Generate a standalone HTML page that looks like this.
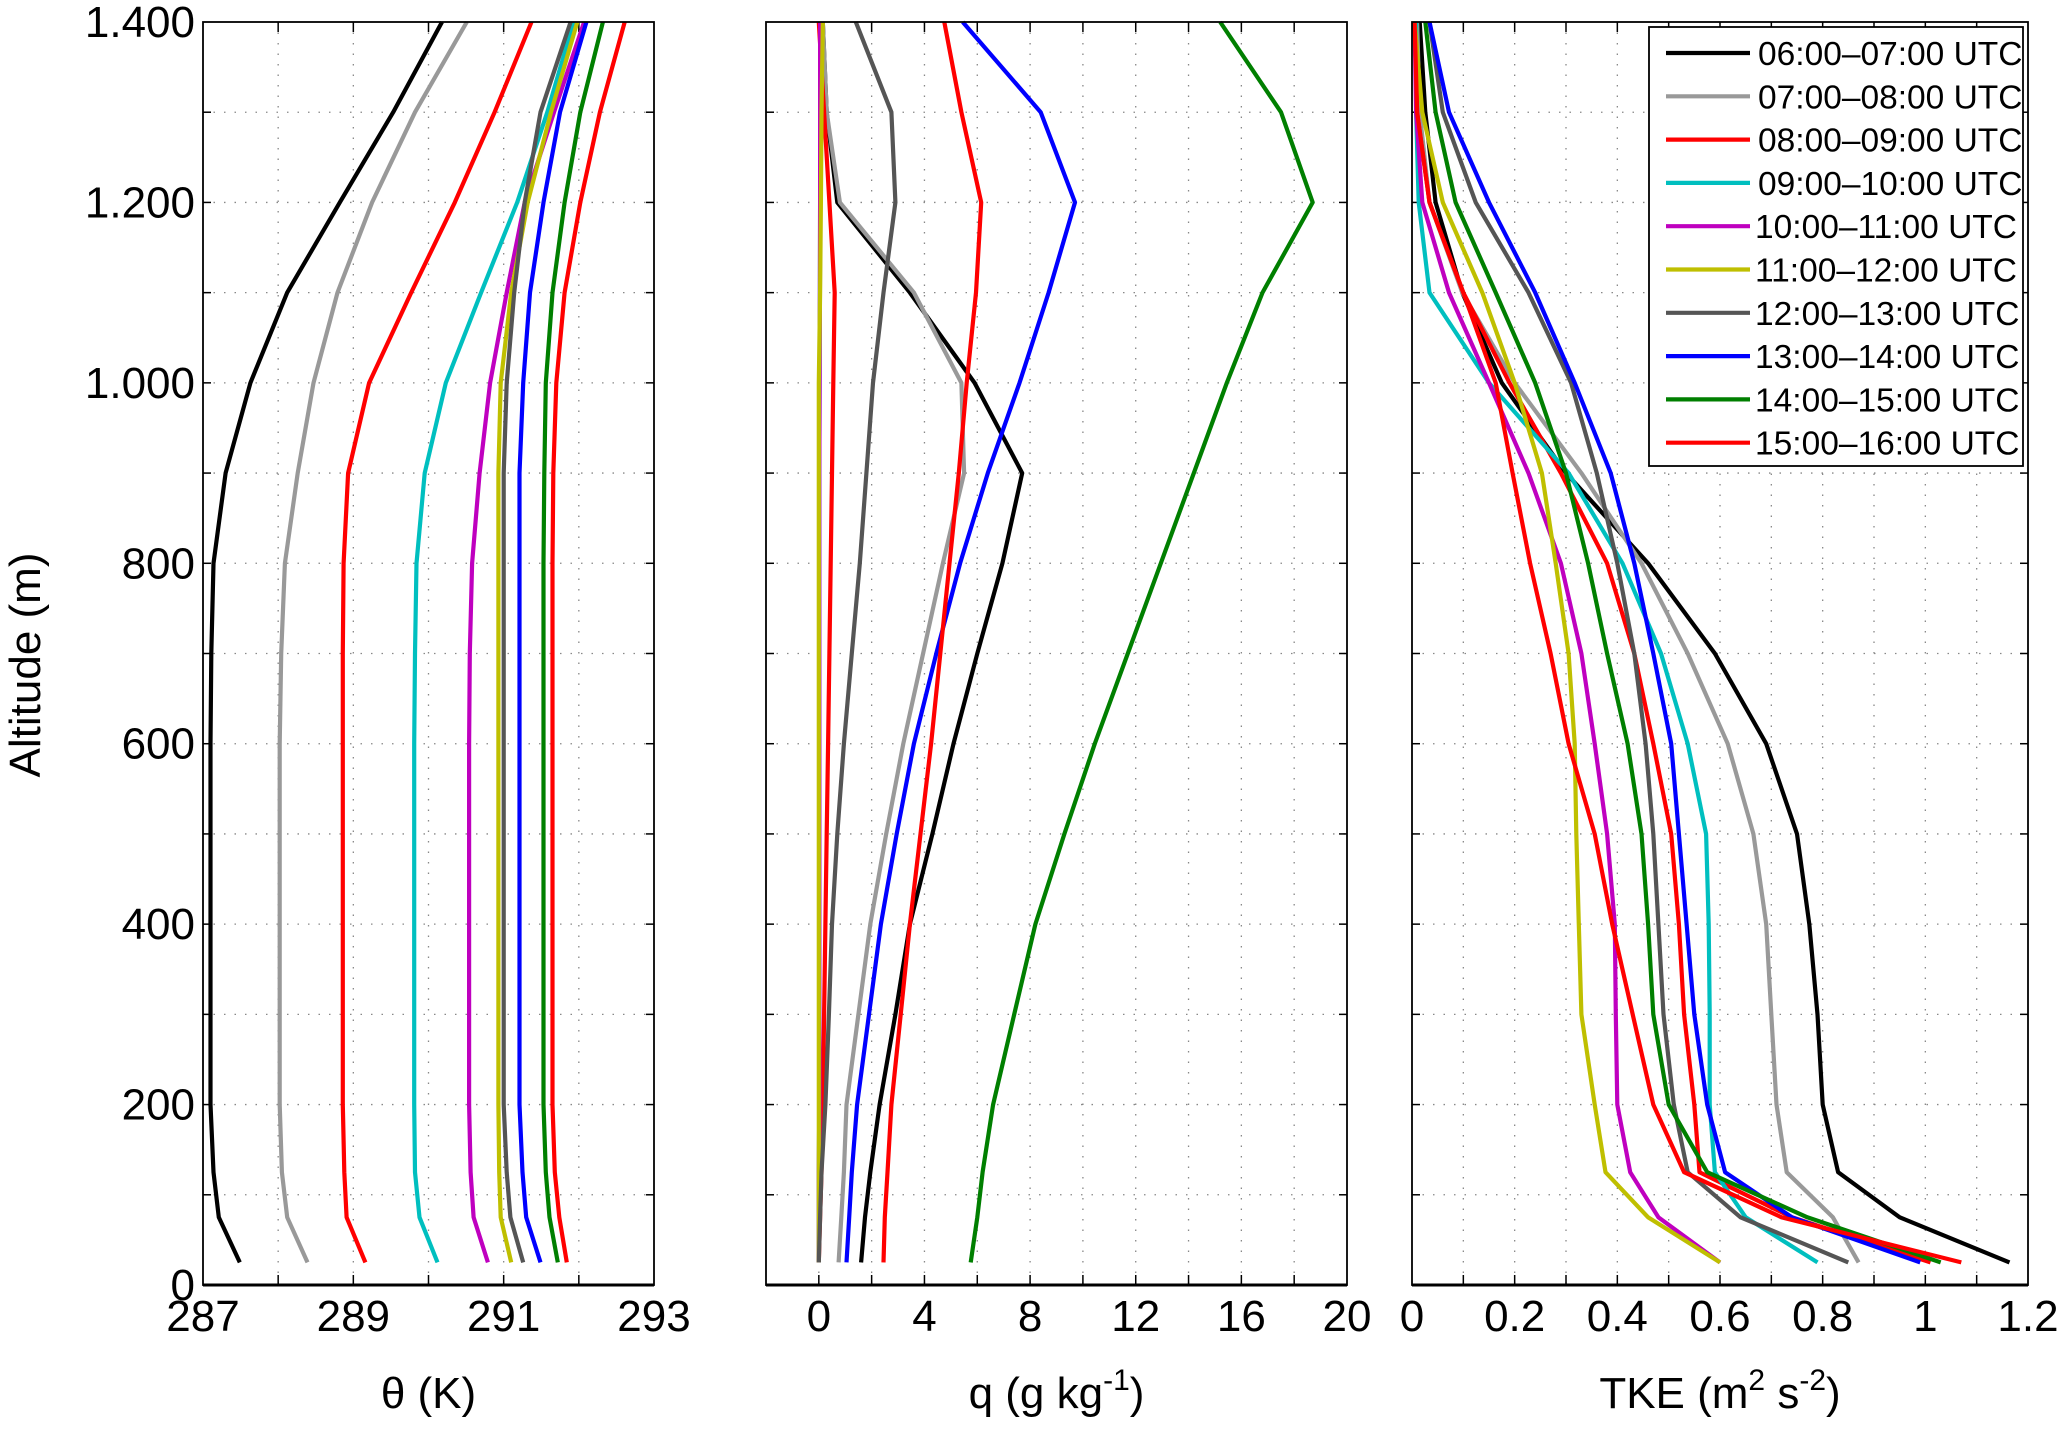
<!DOCTYPE html>
<html><head><meta charset="utf-8"><style>
html,body{margin:0;padding:0;background:#fff;}
svg text{font-family:"Liberation Sans",Arial,sans-serif;fill:#000;}
</style></head><body>
<svg id="chart" xmlns="http://www.w3.org/2000/svg" width="2066" height="1437" viewBox="0 0 2066 1437"></svg>
<script>
const seriesNames = ["06:00–07:00 UTC","07:00–08:00 UTC","08:00–09:00 UTC","09:00–10:00 UTC","10:00–11:00 UTC","11:00–12:00 UTC","12:00–13:00 UTC","13:00–14:00 UTC","14:00–15:00 UTC","15:00–16:00 UTC"];
const seriesColors = ["#000000","#999999","#ff0000","#00bfbf","#bf00bf","#bfbf00","#555555","#0000ff","#007f00","#ff0000"];
const altLevels = [25,75,125,200,300,400,500,600,700,800,900,1000,1100,1200,1300,1400];
const yTicks = [0,200,400,600,800,1000,1200,1400];
const yTickLabels = ["0","200","400","600","800","1.000","1.200","1.400"];

const thetaValues = [
 [287.49,287.21,287.14,287.1,287.1,287.1,287.1,287.1,287.11,287.14,287.3,287.63,288.12,288.82,289.53,290.18],
 [288.39,288.12,288.05,288.02,288.02,288.02,288.02,288.02,288.04,288.09,288.26,288.47,288.79,289.25,289.82,290.51],
 [289.16,288.91,288.88,288.86,288.86,288.86,288.86,288.86,288.86,288.87,288.93,289.21,289.77,290.35,290.88,291.37],
 [290.12,289.88,289.82,289.81,289.81,289.81,289.81,289.81,289.82,289.84,289.95,290.23,290.7,291.18,291.58,291.93],
 [290.79,290.6,290.56,290.54,290.54,290.54,290.54,290.54,290.55,290.58,290.68,290.82,291.04,291.28,291.67,292.07],
 [291.1,290.96,290.94,290.93,290.93,290.93,290.93,290.93,290.93,290.93,290.93,290.96,291.1,291.32,291.63,291.98],
 [291.26,291.09,291.04,291.0,291.0,291.0,291.0,291.0,291.0,291.0,291.0,291.04,291.14,291.28,291.49,291.89],
 [291.49,291.3,291.25,291.21,291.21,291.21,291.21,291.21,291.21,291.21,291.21,291.26,291.35,291.53,291.75,292.1],
 [291.72,291.61,291.56,291.53,291.53,291.53,291.53,291.53,291.53,291.53,291.54,291.56,291.65,291.81,292.02,292.32],
 [291.84,291.74,291.68,291.65,291.65,291.65,291.65,291.65,291.65,291.65,291.66,291.7,291.81,292.02,292.28,292.61]
];
const qValues = [
 [1.6,1.75,1.95,2.3,2.9,3.45,4.3,5.1,6.0,6.95,7.7,5.9,3.45,0.7,0.3,0.15],
 [0.75,0.85,0.95,1.05,1.5,1.95,2.55,3.2,3.95,4.7,5.5,5.4,3.6,0.8,0.3,0.15],
 [0.0,0.05,0.1,0.15,0.2,0.25,0.3,0.35,0.4,0.45,0.5,0.55,0.6,0.4,0.2,0.0],
 [0.0,0.0,0.0,0.02,0.02,0.02,0.02,0.02,0.02,0.02,0.02,0.03,0.04,0.05,0.05,0.05],
 [0.0,0.0,0.0,0.02,0.02,0.02,0.02,0.02,0.02,0.02,0.02,0.03,0.04,0.05,0.05,0.05],
 [0.0,0.0,0.0,0.0,0.0,0.0,0.0,0.0,0.0,0.0,0.0,0.0,0.05,0.08,0.1,0.15],
 [0.0,0.05,0.1,0.25,0.38,0.5,0.7,0.95,1.25,1.55,1.8,2.05,2.45,2.9,2.75,1.4],
 [1.05,1.15,1.25,1.45,1.9,2.35,2.95,3.6,4.45,5.35,6.4,7.6,8.7,9.7,8.4,5.45],
 [5.75,6.0,6.2,6.6,7.4,8.2,9.3,10.45,11.7,12.95,14.2,15.45,16.8,18.7,17.5,15.2],
 [2.45,2.5,2.6,2.75,3.1,3.45,3.85,4.25,4.6,4.95,5.3,5.6,5.95,6.15,5.4,4.75]
];
const tkeValues = [
 [1.164,0.95,0.83,0.8,0.79,0.774,0.75,0.69,0.59,0.46,0.3,0.175,0.098,0.046,0.026,0.015],
 [0.87,0.82,0.73,0.71,0.7,0.69,0.665,0.615,0.537,0.447,0.33,0.2,0.098,0.034,0.015,0.01],
 [1.01,0.74,0.56,0.55,0.53,0.52,0.505,0.47,0.433,0.38,0.29,0.19,0.1,0.034,0.01,0.005],
 [0.79,0.65,0.59,0.58,0.58,0.578,0.573,0.537,0.485,0.41,0.305,0.15,0.034,0.013,0.008,0.008],
 [0.6,0.48,0.425,0.4,0.397,0.395,0.38,0.356,0.33,0.29,0.227,0.15,0.072,0.02,0.008,0.005],
 [0.6,0.46,0.377,0.356,0.33,0.325,0.32,0.317,0.305,0.28,0.253,0.2,0.137,0.06,0.02,0.005],
 [0.85,0.64,0.537,0.51,0.49,0.48,0.47,0.455,0.433,0.4,0.36,0.31,0.227,0.124,0.06,0.034],
 [0.99,0.74,0.61,0.575,0.55,0.535,0.52,0.505,0.47,0.433,0.387,0.317,0.24,0.15,0.072,0.034],
 [1.03,0.77,0.575,0.5,0.47,0.46,0.447,0.42,0.38,0.343,0.3,0.24,0.163,0.085,0.046,0.026],
 [1.07,0.72,0.53,0.47,0.43,0.39,0.356,0.305,0.27,0.23,0.196,0.163,0.1,0.034,0.01,0.005]
];
const thetaTicks = [287,289,291,293];
const thetaGrid = [288,289,290,291,292];
const qTicks = [0,4,8,12,16,20];
const qGrid = [0,2,4,6,8,10,12,14,16,18];
const tkeTicks = [0,0.2,0.4,0.6,0.8,1,1.2];
const tkeGrid = [0.1,0.2,0.3,0.4,0.5,0.6,0.7,0.8,0.9,1.0,1.1];

const NS="http://www.w3.org/2000/svg";
const svg=document.getElementById('chart');
const Y0=1285, Y1=22;
function yScale(a){return Y0+(Y1-Y0)*a/1400;}
function mk(tag,attrs,parent){const e=document.createElementNS(NS,tag);for(const k in attrs)e.setAttribute(k,attrs[k]);(parent||svg).appendChild(e);return e;}

function panel(key,x0,x1,dmin,dmax,ticks,grid,values,title,titleSup,titleEnd,minorTicks){
  const g=mk('g',{});
  
  
  const xs=v=>x0+(x1-x0)*(v-dmin)/(dmax-dmin);
  // grid
  for(let a=100;a<1400;a+=100){
    const l=mk('line',{x1:x0,x2:x1,y1:yScale(a),y2:yScale(a),stroke:'#888','stroke-width':1.3,'stroke-dasharray':'1.5 9'},g);
    
    
    mk('line',{x1:x0,x2:x0+8,y1:yScale(a),y2:yScale(a),stroke:'#000','stroke-width':1.5},g);
    mk('line',{x1:x1,x2:x1-8,y1:yScale(a),y2:yScale(a),stroke:'#000','stroke-width':1.5},g);
  }
  grid.forEach(v=>{
    const l=mk('line',{x1:xs(v),x2:xs(v),y1:Y1,y2:Y0,stroke:'#888','stroke-width':1.3,'stroke-dasharray':'1.5 9'},g);
    
    
  });
  minorTicks.forEach(v=>{
    mk('line',{x1:xs(v),x2:xs(v),y1:Y0,y2:Y0-10,stroke:'#000','stroke-width':1.5},g);
    mk('line',{x1:xs(v),x2:xs(v),y1:Y1,y2:Y1+10,stroke:'#000','stroke-width':1.5},g);
  });
  ticks.forEach(v=>{
    const t=mk('text',{x:xs(v),y:1331,'font-size':44,'text-anchor':'middle'},g);
    t.textContent=String(v);
    
    
  });
  // series
  values.forEach((arr,i)=>{
    const pts=arr.map((v,j)=>xs(v).toFixed(1)+','+yScale(altLevels[j]).toFixed(1)).join(' ');
    const p=mk('polyline',{points:pts,fill:'none',stroke:seriesColors[i],'stroke-width':4.2,'stroke-linejoin':'round'},g);
    
    
  });
  const fr=mk('rect',{x:x0,y:Y1,width:x1-x0,height:Y0-Y1,fill:'none',stroke:'#000','stroke-width':1.8},g);
  
  
  mk('line',{x1:x0,x2:x1,y1:Y0,y2:Y0,stroke:'#000','stroke-width':3},g);
  const tt=mk('text',{x:(x0+x1)/2,y:1408,'font-size':44,'text-anchor':'middle'},g);
  
  
  tt.appendChild(document.createTextNode(title));
  if(titleSup){
    tt.appendChild(document.createTextNode(''));
  }
  return {g,xs,tt};
}

// Panel 1
const p1=panel('theta',203,654,287,293,thetaTicks,thetaGrid,thetaValues,'θ (K)',null,null,[288,289,290,291,292]);
// Panel 2
const p2=panel('q',766,1347,-2,20,qTicks,qGrid,qValues,'q (g kg',true,null,[0,2,4,6,8,10,12,14,16,18]);
(function(){const t=p2.tt;const s=mk('tspan',{dy:-18,'font-size':30},t);s.textContent='-1';const e=mk('tspan',{dy:18},t);e.textContent=')';})();
// Panel 3
const p3=panel('tke',1412,2028,0,1.2,tkeTicks,tkeGrid,tkeValues,'TKE (m',true,null,tkeGrid);
(function(){const t=p3.tt;let s=mk('tspan',{dy:-18,'font-size':30},t);s.textContent='2';let e=mk('tspan',{dy:18},t);e.textContent=' s';s=mk('tspan',{dy:-18,'font-size':30},t);s.textContent='-2';e=mk('tspan',{dy:18},t);e.textContent=')';})();

// y tick labels
yTicks.forEach((a,i)=>{
  const t=mk('text',{x:195,y:yScale(a)+15,'font-size':44,'text-anchor':'end'});
  t.textContent=yTickLabels[i];
  
  
});
const yt=mk('text',{x:0,y:0,'font-size':44,'text-anchor':'middle',transform:'translate(40,665) rotate(-90)'});
yt.textContent='Altitude (m)';



// legend
const lg=mk('g',{});


mk('rect',{x:1649,y:27,width:374,height:439,fill:'#fff',stroke:'#000','stroke-width':1.8},lg);
seriesNames.forEach((n,i)=>{
  const cy=53+i*43.3;
  const e=mk('g',{},lg);
  
  
  mk('line',{x1:1666,x2:1750,y1:cy,y2:cy,stroke:seriesColors[i],'stroke-width':4.2},e);
  const t=mk('text',{x:i>=4?1755:1758,y:cy+12,'font-size':33.5},e);
  t.textContent=n;
});
</script>
</body></html>
